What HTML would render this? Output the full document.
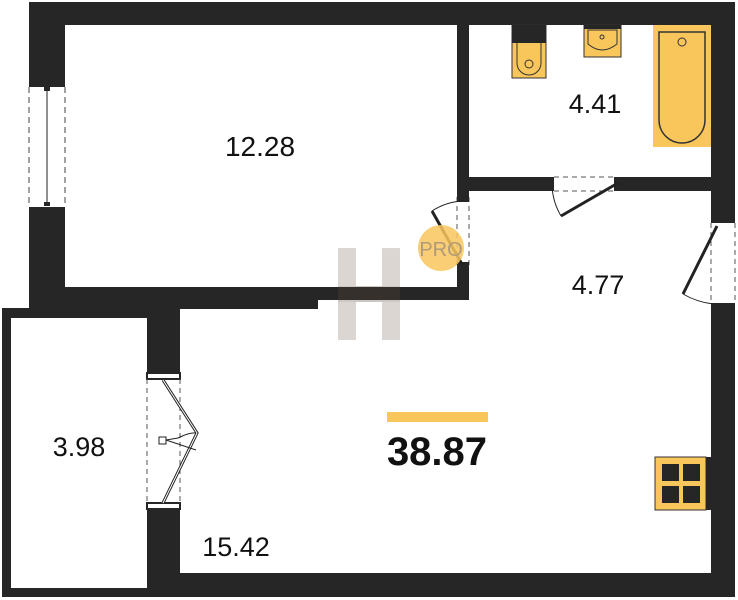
<!DOCTYPE html>
<html><head><meta charset="utf-8"><style>
html,body{margin:0;padding:0;background:#fff;}
svg{display:block;}
text{font-family:"Liberation Sans",sans-serif;fill:#111;}
</style></head><body>
<svg width="738" height="600" viewBox="0 0 738 600" xmlns="http://www.w3.org/2000/svg">
<g fill="#262626">
  <rect x="29" y="2" width="706" height="23"/>
  <rect x="29" y="2" width="36" height="80"/>
  <rect x="29" y="210" width="36" height="100"/>
  <rect x="29" y="287" width="440" height="13"/>
  <rect x="29" y="300" width="289" height="9"/>
  <rect x="2" y="308" width="178" height="10"/>
  <rect x="2" y="308" width="9" height="289"/>
  <rect x="2" y="588" width="733" height="9"/>
  <rect x="147" y="308" width="33" height="65"/>
  <rect x="147" y="508" width="33" height="89"/>
  <rect x="147" y="573" width="588" height="24"/>
  <rect x="457" y="2" width="12" height="195"/>
  <rect x="457" y="267" width="12" height="33"/>
  <rect x="457" y="177" width="95" height="14"/>
  <rect x="618" y="177" width="117" height="14"/>
  <rect x="711" y="2" width="24" height="220"/>
  <rect x="711" y="305" width="24" height="292"/>
</g>
<rect x="29" y="82" width="36" height="5" fill="#262626"/>
<rect x="29" y="207" width="36" height="5" fill="#262626"/>
<line x1="29" y1="87" x2="29" y2="207" stroke="#444" stroke-dasharray="6,4"/>
<line x1="65" y1="87" x2="65" y2="207" stroke="#444" stroke-dasharray="6,4"/>
<line x1="47" y1="90" x2="47" y2="204" stroke="#222"/>
<rect x="44" y="87" width="6" height="4" fill="#262626"/>
<rect x="44" y="202" width="6" height="4" fill="#262626"/>
<line x1="457" y1="197" x2="457" y2="267" stroke="#555" stroke-dasharray="5,4"/>
<line x1="469" y1="197" x2="469" y2="267" stroke="#555" stroke-dasharray="5,4"/>
<rect x="457" y="197" width="12" height="5" fill="#262626"/>
<rect x="457" y="262" width="12" height="5" fill="#262626"/>
<line x1="432" y1="211" x2="463" y2="266" stroke="#222" stroke-width="3"/>
<path d="M432 211 A62 62 0 0 1 463 201" fill="none" stroke="#222"/>
<rect x="548" y="177" width="6" height="14" fill="#262626"/>
<rect x="614" y="177" width="6" height="14" fill="#262626"/>
<line x1="554" y1="177" x2="614" y2="177" stroke="#555" stroke-dasharray="5,4"/>
<line x1="554" y1="191" x2="614" y2="191" stroke="#555" stroke-dasharray="5,4"/>
<line x1="618" y1="183" x2="561" y2="216" stroke="#222" stroke-width="3"/>
<path d="M561 216 A66 66 0 0 1 552 186" fill="none" stroke="#222"/>
<rect x="711" y="218" width="24" height="5" fill="#262626"/>
<rect x="711" y="303" width="24" height="5" fill="#262626"/>
<line x1="711" y1="223" x2="711" y2="303" stroke="#555" stroke-dasharray="5,4"/>
<line x1="735" y1="223" x2="735" y2="303" stroke="#555" stroke-dasharray="5,4"/>
<line x1="717" y1="226" x2="683" y2="294" stroke="#222" stroke-width="3"/>
<path d="M683 294 A78 78 0 0 0 713 304" fill="none" stroke="#222"/>
<rect x="147" y="373" width="33" height="6" fill="#fff" stroke="#262626" stroke-width="2"/>
<rect x="147" y="503" width="33" height="6" fill="#fff" stroke="#262626" stroke-width="2"/>
<line x1="147" y1="379" x2="147" y2="503" stroke="#555" stroke-dasharray="5,4"/>
<line x1="180" y1="379" x2="180" y2="503" stroke="#555" stroke-dasharray="5,4"/>
<polyline points="163,380 197,433 163,503" fill="none" stroke="#222" stroke-width="3"/>
<polyline points="163,380 197,433 163,503" fill="none" stroke="#fff" stroke-width="1"/>
<rect x="159" y="437" width="7" height="7" fill="#fff" stroke="#222"/>
<path d="M166 440 L178 438 Q190 432 196 433 M166 440 L196 450" fill="none" stroke="#222"/>
<rect x="512" y="25" width="34" height="53" fill="#f9c65c" stroke="#333"/>
<rect x="512" y="25" width="34" height="18" fill="#262626"/>
<path d="M517 43 L517 63 A12 12 0 0 0 541 63 L541 43" fill="none" stroke="#333"/>
<circle cx="529" cy="64" r="4" fill="none" stroke="#333"/>
<rect x="584" y="25" width="37" height="32" fill="#f9c65c" stroke="#333"/>
<rect x="584" y="25" width="37" height="4" fill="#262626"/>
<path d="M588 30 L617 30 L617 44 Q602 56 588 44 Z" fill="none" stroke="#333"/>
<circle cx="602" cy="37" r="2" fill="none" stroke="#333"/>
<rect x="653" y="25" width="58" height="122" fill="#f9c65c"/>
<path d="M659 32 L705 32 L705 120 A23 23 0 0 1 659 120 Z" fill="none" stroke="#333" stroke-width="1.5"/>
<circle cx="682" cy="42" r="4" fill="none" stroke="#333"/>
<rect x="655" y="457" width="51" height="53" fill="#f9c65c" stroke="#333"/>
<rect x="706" y="457" width="5" height="53" fill="#262626"/>
<rect x="662" y="464" width="17" height="17" fill="#262626"/>
<rect x="683" y="464" width="17" height="17" fill="#262626"/>
<rect x="662" y="486" width="17" height="17" fill="#262626"/>
<rect x="683" y="486" width="17" height="17" fill="#262626"/>
<g opacity="0.3">
  <rect x="338" y="248" width="18" height="92" fill="#8a7a6a"/>
  <rect x="382" y="248" width="18" height="92" fill="#8a7a6a"/>
  <rect x="338" y="286" width="62" height="16" fill="#5a4a3a"/>
</g>
<circle cx="441" cy="248" r="23" fill="#f9c65c" opacity="0.85"/>
<text x="441" y="256" font-size="20" text-anchor="middle" style="fill:#b09a7a">PRO</text>
<rect x="387" y="412" width="101" height="10" fill="#f9c65c"/>
<text x="260" y="156" font-size="28" text-anchor="middle">12.28</text>
<text x="595" y="113" font-size="27" text-anchor="middle">4.41</text>
<text x="598" y="294" font-size="27" text-anchor="middle">4.77</text>
<text x="79" y="456" font-size="27" text-anchor="middle">3.98</text>
<text x="236" y="556" font-size="27" text-anchor="middle">15.42</text>
<text x="437" y="465" font-size="40" font-weight="bold" text-anchor="middle">38.87</text>
</svg>
</body></html>
